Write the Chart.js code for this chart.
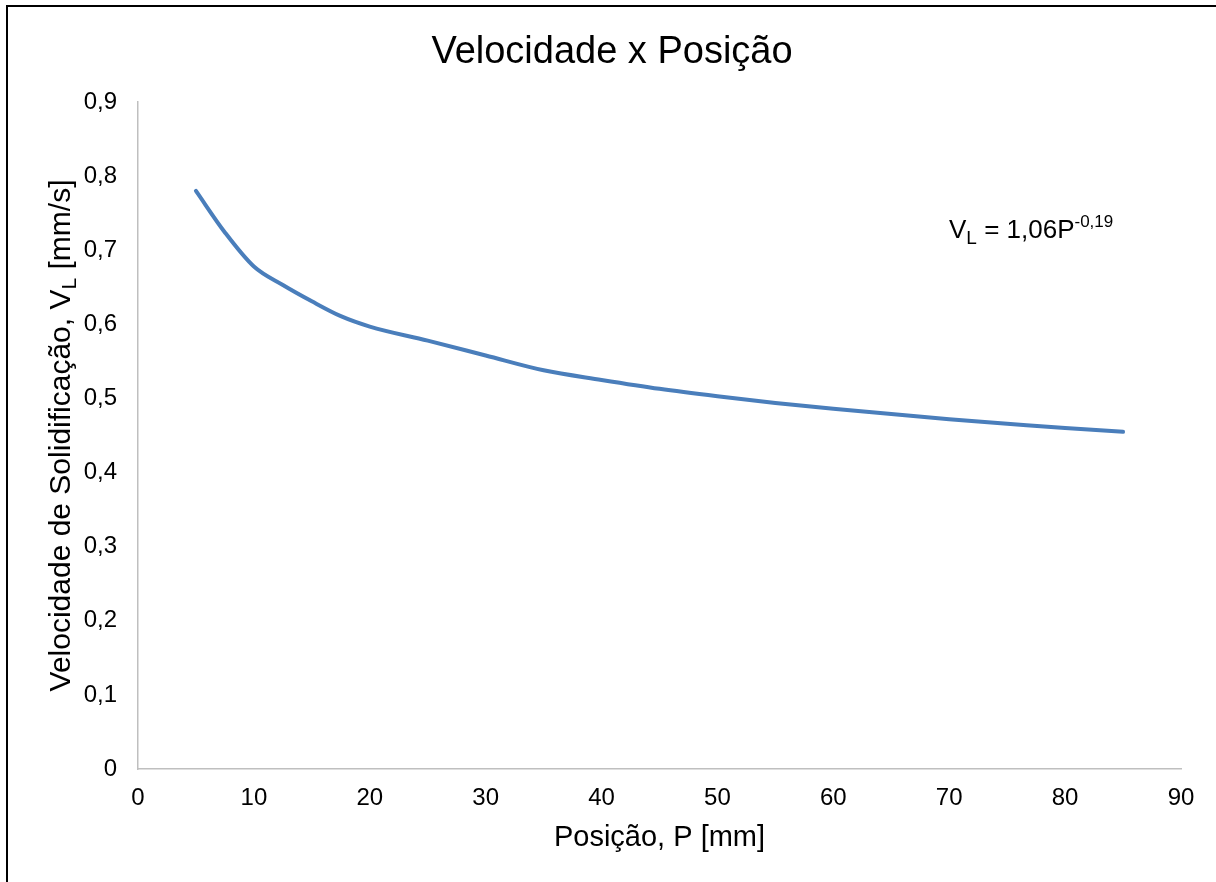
<!DOCTYPE html>
<html>
<head>
<meta charset="utf-8">
<script src="https://cdn.jsdelivr.net/npm/chart.js@4"></script>
<style>
    body { margin: 0; background: #fff; }
    #wrap { position: relative; width: 1216px; height: 882px; overflow: hidden; }
    #moldura { position: absolute; left: 6px; top: 5px; width: 1300px; height: 1000px;
        border-top: 2px solid #000; border-left: 2px solid #000; }
    #grafico { position: absolute; left: 0; top: 0; }
</style>
</head>
<body>
<div id="wrap">
    <div id="moldura"></div>
    <canvas id="grafico" width="1216" height="882"></canvas>
</div>
<script>
const posicao = [5, 7.5, 10, 12.5, 15, 17.5, 20, 25, 30, 35, 40, 45, 50, 55, 60, 65, 70, 75, 80, 85];
const velocidade = [0.780, 0.724, 0.678, 0.653, 0.631, 0.611, 0.597, 0.578, 0.558, 0.538,
    0.525, 0.513, 0.503, 0.494, 0.486, 0.479, 0.472, 0.466, 0.460, 0.455];

const titulo = 'Velocidade x Posição';
const tituloX = 'Posição, P [mm]';
const fonte = '"Liberation Sans", Arial, sans-serif';

// texto com subscrito/sobrescrito (titulo do eixo y e equacao)
function desenhaPartes(ctx, partes, x, y, align) {
    let total = 0;
    partes.forEach(p => {
        ctx.font = `${p.size}px ${fonte}`;
        p.w = ctx.measureText(p.text).width;
        total += p.w;
    });
    let cx = align === 'center' ? x - total / 2 : x;
    ctx.textAlign = 'left';
    ctx.textBaseline = 'alphabetic';
    partes.forEach(p => {
        ctx.font = `${p.size}px ${fonte}`;
        ctx.fillText(p.text, cx, y + (p.dy || 0));
        cx += p.w;
    });
}

const textosExtras = {
    id: 'textosExtras',
    afterDraw(chart) {
        let ctx = chart.ctx;
        let area = chart.chartArea;

        ctx.save();
        ctx.fillStyle = '#000';
        ctx.font = `38px ${fonte}`;
        ctx.textAlign = 'center';
        ctx.textBaseline = 'middle';
        ctx.fillText(titulo, chart.width / 2 + 4, 53);
        ctx.restore();

        ctx.save();
        ctx.fillStyle = '#000';
        ctx.translate(70, (area.top + area.bottom) / 2);
        ctx.rotate(-Math.PI / 2);
        desenhaPartes(ctx, [
            { text: 'Velocidade de Solidificação, V', size: 30 },
            { text: 'L', size: 21, dy: 6 },
            { text: ' [mm/s]', size: 30 }
        ], 0, 0, 'center');
        ctx.restore();

        ctx.save();
        ctx.fillStyle = '#000';
        desenhaPartes(ctx, [
            { text: 'V', size: 26 },
            { text: 'L', size: 19, dy: 6 },
            { text: ' = 1,06P', size: 26 },
            { text: '-0,19', size: 17, dy: -11 }
        ], area.left + 811, area.top + 136, 'left');
        ctx.restore();
    }
};

let canvas = document.querySelector('#grafico');
new Chart(canvas, {
    type: 'line',
    data: {
        datasets: [{
            label: 'Velocidade',
            data: posicao.map((p, i) => ({ x: p, y: velocidade[i] })),
            borderColor: '#4a7ebb',
            borderWidth: 4,
            borderCapStyle: 'round',
            pointRadius: 0,
            cubicInterpolationMode: 'monotone',
            fill: false
        }]
    },
    options: {
        responsive: false,
        animation: false,
        layout: { padding: { left: 0, right: 35, top: 102, bottom: 0 } },
        plugins: {
            legend: { display: false },
            tooltip: { enabled: false },
            title: { display: false }
        },
        scales: {
            x: {
                type: 'linear',
                min: 0,
                max: 90,
                grid: { display: false, drawTicks: false },
                border: { color: '#bfbfbf', width: 1.5 },
                ticks: {
                    stepSize: 10,
                    padding: 15,
                    color: '#000',
                    font: { family: fonte, size: 24 }
                },
                title: {
                    display: true,
                    text: tituloX,
                    color: '#000',
                    font: { family: fonte, size: 29 },
                    padding: { top: 0, bottom: 27 }
                },
                afterFit(scale) { scale.height = 113; }
            },
            y: {
                min: 0,
                max: 0.9,
                grid: { display: false, drawTicks: false },
                border: { color: '#bfbfbf', width: 1.5 },
                ticks: {
                    stepSize: 0.1,
                    padding: 21,
                    color: '#000',
                    font: { family: fonte, size: 24 },
                    callback: (v) => v === 0 ? '0' : v.toFixed(1).replace('.', ',')
                },
                afterFit(scale) { scale.width = 138; }
            }
        }
    },
    plugins: [textosExtras]
});
</script>
</body>
</html>
